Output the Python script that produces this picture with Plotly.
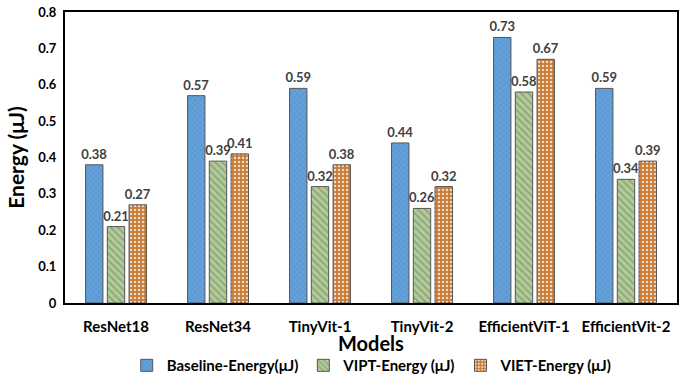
import plotly.graph_objects as go

models = ["ResNet18", "ResNet34", "TinyVit-1", "TinyVit-2", "EfficientViT-1", "EfficientVit-2"]
baseline = [0.38, 0.57, 0.59, 0.44, 0.73, 0.59]
vipt = [0.21, 0.39, 0.32, 0.26, 0.58, 0.34]
viet = [0.27, 0.41, 0.38, 0.32, 0.67, 0.39]
yticks = [0, 0.1, 0.2, 0.3, 0.4, 0.5, 0.6, 0.7, 0.8]
ytick_text = ["0", "0.1", "0.2", "0.3", "0.4", "0.5", "0.6", "0.7", "0.8"]

FONT = "Lato"

series = [
    ("Baseline-Energy(μJ)", baseline, "#5B9BD5", "#78A8DA", "x", 4, 0.25),
    ("VIPT-Energy (μJ)", vipt, "#B3CB9A", "#8CA876", "\\", 5, 0.35),
    ("VIET-Energy (μJ)", viet, "#C97A35", "#F2DCC5", ".", 4, 0.3),
]

fig = go.Figure()
for name, vals, bg, fg, shape, size, sol in series:
    fig.add_trace(go.Bar(
        x=models, y=vals, name=name,
        marker=dict(
            color=bg,
            line=dict(color="#555555", width=1),
            pattern=dict(shape=shape, bgcolor=bg, fgcolor=fg, size=size,
                         solidity=sol, fillmode="replace"),
        ),
        text=[f"{v:.2f}" for v in vals],
        textposition="outside",
        constraintext="none",
        textfont=dict(family=FONT, size=13, color="#404040", weight="bold"),
        cliponaxis=False,
    ))

fig.update_layout(
    width=683, height=374,
    margin=dict(l=65, r=6, t=12, b=71, autoexpand=False),
    paper_bgcolor="white", plot_bgcolor="white",
    barmode="group", bargap=0.36, bargroupgap=0.2,
    font=dict(family=FONT, color="black"),
    showlegend=True,
    legend=dict(orientation="h", x=0.545, xanchor="center", xref="container",
                y=-0.215, yanchor="middle", yref="paper",
                font=dict(family=FONT, size=15, color="black", weight="bold"),
                traceorder="normal", itemwidth=30, tracegroupgap=0),
    xaxis=dict(
        tickfont=dict(family=FONT, size=15, weight="bold", color="black"),
        showline=True, linecolor="black", linewidth=2, mirror=True,
        showgrid=False, ticks="outside", ticklen=9, tickcolor="rgba(0,0,0,0)",
        automargin=False,
    ),
    yaxis=dict(
        title=dict(text="Energy (μJ)", font=dict(family=FONT, size=21, weight="bold"), standoff=8),
        range=[0, 0.8], tickvals=yticks, ticktext=ytick_text,
        tickfont=dict(family=FONT, size=13, weight="bold", color="black"),
        showline=True, linecolor="black", linewidth=2, mirror=True,
        showgrid=False, zeroline=False, ticks="outside", ticklen=4,
        tickcolor="rgba(0,0,0,0)", automargin=False,
    ),
    annotations=[dict(
        text="Models", xref="paper", yref="paper", x=0.5, y=-0.138,
        xanchor="center", yanchor="middle", showarrow=False,
        font=dict(family=FONT, size=20, weight="bold", color="black"),
    )],
)

fig.write_html("out.html")
